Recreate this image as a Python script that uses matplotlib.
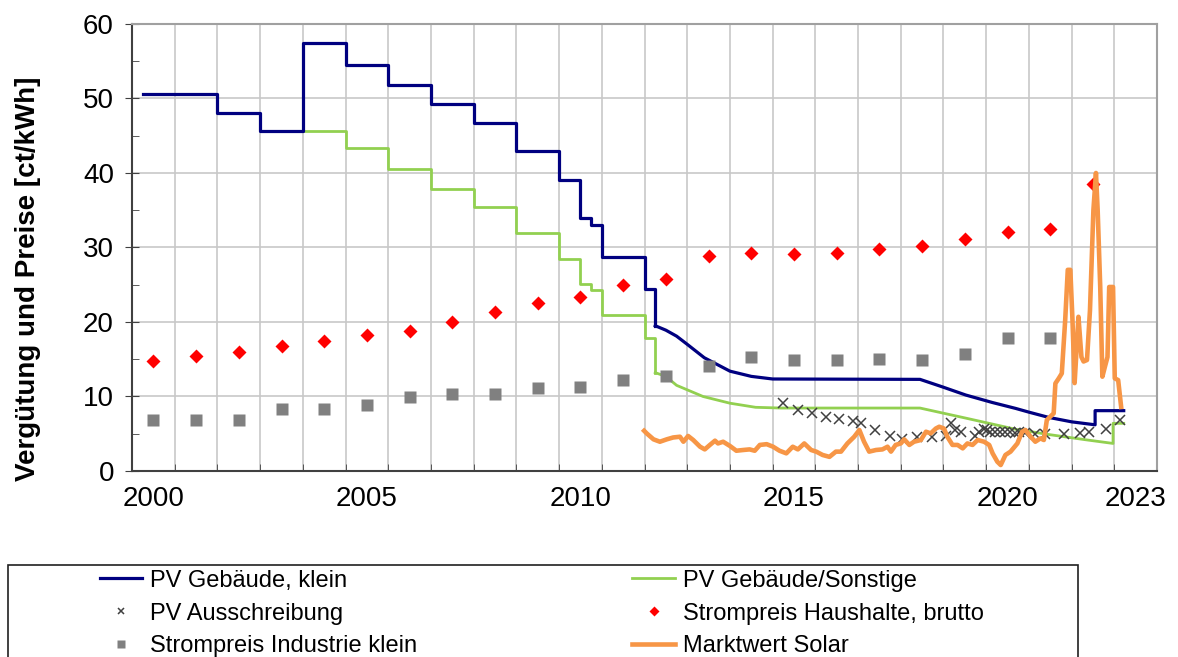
import numpy as np
import matplotlib.pyplot as plt
from matplotlib.patches import Rectangle

plt.rcParams['font.family'] = ['Liberation Sans', 'DejaVu Sans']

# PV Gebäude, klein: Stufen bis April 2012, danach monatliche Degression
klein_stufen_t = [2000.25, 2002, 2003, 2004, 2005, 2006, 2007, 2008, 2009, 2010,
                  2010.5, 2010.75, 2011, 2012, 2012.25]
klein_stufen_v = [50.6, 48.1, 45.7, 57.4, 54.5, 51.8, 49.2, 46.75, 43.0, 39.1,
                  34.0, 33.0, 28.7, 24.4, 19.5]
klein_kurve_t = [2012.25, 2012.5, 2012.75, 2013.0, 2013.4, 2014.0, 2014.5, 2015.0,
                 2018.45, 2018.97, 2019.52, 2020.14, 2020.69, 2021.0, 2021.46, 2022.0,
                 2022.55, 2022.55, 2023.22]
klein_kurve_v = [19.5, 18.9, 18.1, 17.0, 15.2, 13.4, 12.7, 12.35,
                 12.3, 11.3, 10.2, 9.2, 8.4, 7.9, 7.2, 6.6,
                 6.2, 8.1, 8.1]

# PV Gebäude/Sonstige
sonst_stufen_t = [2004, 2005, 2006, 2007, 2008, 2009, 2010, 2010.5, 2010.75, 2011,
                  2012, 2012.25]
sonst_stufen_v = [45.7, 43.4, 40.6, 37.9, 35.4, 32.0, 28.4, 25.1, 24.3, 21.0,
                  17.8, 13.2]
sonst_kurve_t = [2012.25, 2012.5, 2012.75, 2013.37, 2014.0, 2014.6, 2015.2, 2018.45,
                 2019.52, 2020.69, 2021.46, 2022.32, 2022.97, 2022.97, 2023.22]
sonst_kurve_v = [13.2, 12.7, 11.5, 10.0, 9.1, 8.55, 8.45, 8.45,
                 7.1, 5.6, 4.9, 4.2, 3.7, 6.4, 6.4]

# PV Ausschreibung (Zuschlagswerte)
aus_t = [2015.24, 2015.59, 2015.92, 2016.24, 2016.56, 2016.89, 2017.07, 2017.40,
         2017.74, 2018.04, 2018.39, 2018.74, 2019.05, 2019.17, 2019.27, 2019.42,
         2019.73, 2019.84, 2019.94, 2020.02, 2020.10, 2020.20, 2020.33, 2020.45,
         2020.56, 2020.68, 2020.77, 2020.91, 2021.15, 2021.38, 2021.81, 2022.20,
         2022.40, 2022.80, 2023.13]
aus_v = [9.1, 8.2, 7.8, 7.2, 7.0, 6.7, 6.5, 5.5,
         4.7, 4.25, 4.5, 4.5, 4.7, 6.4, 5.5, 5.3,
         4.7, 5.3, 5.6, 5.5, 5.2, 5.2, 5.2, 5.2,
         5.2, 5.1, 5.2, 5.1, 4.9, 4.9, 4.9, 5.1,
         5.3, 5.7, 6.9]

# Strompreise (Jahresmittel)
jahre = np.arange(2000, 2023)
haushalt = [14.8, 15.4, 16.0, 16.8, 17.4, 18.2, 18.8, 20.0, 21.3, 22.6, 23.4, 25.0,
            25.8, 28.8, 29.3, 29.1, 29.3, 29.8, 30.2, 31.1, 32.1, 32.5, 38.5]
industrie = [6.9, 6.9, 6.9, 8.3, 8.3, 8.9, 9.9, 10.4, 10.4, 11.1, 11.3, 12.2,
             12.7, 14.1, 15.3, 14.9, 14.9, 15.1, 14.9, 15.7, 17.8, 17.8]

# Marktwert Solar (monatlich)
solar_t = [2011.99, 2012.05, 2012.21, 2012.36, 2012.52, 2012.67, 2012.83, 2012.91,
           2013.02, 2013.14, 2013.30, 2013.41, 2013.53, 2013.65, 2013.72, 2013.84,
           2014.00, 2014.15, 2014.31, 2014.46, 2014.58, 2014.70, 2014.86, 2015.01,
           2015.16, 2015.32, 2015.47, 2015.59, 2015.74, 2015.90, 2016.02, 2016.17,
           2016.33, 2016.48, 2016.60, 2016.75, 2016.91, 2017.03, 2017.14, 2017.26,
           2017.42, 2017.57, 2017.69, 2017.77, 2017.88, 2018.00, 2018.08, 2018.20,
           2018.31, 2018.47, 2018.59, 2018.70, 2018.82, 2018.90, 2019.01, 2019.09,
           2019.21, 2019.33, 2019.45, 2019.56, 2019.68, 2019.80, 2019.95, 2020.07,
           2020.15, 2020.26, 2020.34, 2020.45, 2020.57, 2020.73, 2020.84, 2020.92,
           2021.04, 2021.15, 2021.27, 2021.35, 2021.42, 2021.50, 2021.58, 2021.62,
           2021.70, 2021.77, 2021.85, 2021.91, 2021.97, 2022.02, 2022.07, 2022.12,
           2022.16, 2022.23, 2022.28, 2022.36, 2022.43, 2022.51, 2022.57, 2022.61,
           2022.67, 2022.72, 2022.78, 2022.84, 2022.88, 2022.97, 2023.01, 2023.09,
           2023.16]
solar_v = [5.4, 5.05, 4.25, 3.93, 4.25, 4.5, 4.6, 3.93,
           4.7, 4.16, 3.26, 2.9, 3.5, 4.07, 3.7, 3.93,
           3.36, 2.72, 2.82, 2.9, 2.72, 3.5, 3.6, 3.26,
           2.72, 2.37, 3.26, 2.9, 3.7, 2.82, 2.6, 2.15,
           1.9, 2.6, 2.6, 3.7, 4.6, 5.5, 3.93, 2.6,
           2.82, 2.9, 3.26, 2.6, 3.5, 3.7, 4.25, 3.5,
           3.93, 4.16, 5.27, 5.05, 5.7, 5.94, 5.7, 4.6,
           3.5, 3.5, 3.04, 3.7, 3.5, 4.16, 3.93, 3.5,
           2.37, 1.25, 0.8, 2.15, 2.6, 3.7, 5.27, 5.5,
           4.6, 3.93, 4.38, 4.16, 6.85, 7.3, 7.74, 11.76,
           12.44, 13.1, 20.3, 27.0, 27.0, 20.3, 11.8, 16.7,
           20.7, 15.3, 14.7, 14.9, 21.6, 35.0, 40.0, 35.0,
           24.7, 12.66, 14.0, 15.3, 24.7, 24.7, 12.44, 12.2,
           8.6]

fig = plt.figure(figsize=(11.78, 6.57), dpi=100)
ax = fig.add_axes([0.1121, 0.2831, 0.8701, 0.6804])

navy = '#000080'
gruen = '#92d050'
orange = '#f79646'

l1, = ax.step(klein_stufen_t, klein_stufen_v, where='post', color=navy, lw=2.3, zorder=4)
ax.plot(klein_kurve_t, klein_kurve_v, color=navy, lw=2.3, zorder=4)
l2, = ax.step(sonst_stufen_t, sonst_stufen_v, where='post', color=gruen, lw=2.0, zorder=3)
ax.plot(sonst_kurve_t, sonst_kurve_v, color=gruen, lw=2.0, zorder=3)
l3, = ax.plot(aus_t, aus_v, 'x', color='#404040', ms=7, mew=1.1, zorder=5)
l4, = ax.plot(jahre + 0.5, haushalt, 'D', color='#ff0000', ms=7.5, mec='none', zorder=5)
l5, = ax.plot(jahre[:len(industrie)] + 0.5, industrie, 's', color='#808080', ms=8.5,
              mec='none', zorder=5)
l6, = ax.plot(solar_t, solar_v, color=orange, lw=3.3, zorder=6)

ax.set_xlim(2000, 2024)
ax.set_ylim(0, 60)

# Gitter: jedes Jahr vertikal, alle 10 ct horizontal
ax.set_xticks(np.arange(2001, 2024), minor=True)
ax.set_xticks([2000.5, 2005.5, 2010.5, 2015.5, 2020.5, 2023.5])
ax.set_xticklabels(['2000', '2005', '2010', '2015', '2020', '2023'])
ax.set_yticks(np.arange(0, 61, 10))
ax.set_yticks(np.arange(5, 60, 10), minor=True)
ax.grid(True, which='minor', axis='x', color='#c8c8c8', lw=1.2)
ax.grid(True, which='major', axis='y', color='#c8c8c8', lw=1.2)
ax.set_axisbelow(True)

ax.tick_params(axis='x', which='major', length=0, labelsize=20, pad=11)
ax.tick_params(axis='x', which='minor', direction='in', length=5, color='#404040')
ax.tick_params(axis='y', which='major', direction='inout', length=10, labelsize=20,
               color='#404040', pad=8)
ax.tick_params(axis='y', which='minor', direction='in', length=5, color='#404040')

for s in ['left', 'bottom']:
    ax.spines[s].set_color('#404040')
    ax.spines[s].set_linewidth(1.5)
for s in ['top', 'right']:
    ax.spines[s].set_color('#a0a0a0')
    ax.spines[s].set_linewidth(1.5)

ax.set_ylabel('Vergütung und Preise [ct/kWh]', fontsize=20, fontweight='bold')
ax.yaxis.set_label_coords(-0.089, 0.43)

# Legendenrahmen (unten abgeschnitten)
fig.patches.append(Rectangle((8 / 1178, -0.1), 1070 / 1178, 0.1 + 1 - 565 / 657,
                             transform=fig.transFigure, fill=False, ec='#202020', lw=1.2))
# Reihenfolge so, dass die Legende zeilenweise gelesen wird
fig.legend([l1, l3, l5, l2, l4, l6],
           ['PV Gebäude, klein', 'PV Ausschreibung', 'Strompreis Industrie klein',
            'PV Gebäude/Sonstige', 'Strompreis Haushalte, brutto', 'Marktwert Solar'],
           ncol=2, frameon=False, loc='upper left', bbox_to_anchor=(95 / 1178, 1 - 565 / 657),
           fontsize=17, handlelength=1.8, handletextpad=0.35, columnspacing=9.1,
           labelspacing=0.46, markerscale=0.7, borderaxespad=0, borderpad=0.2)

plt.savefig('out.png', dpi=100)
